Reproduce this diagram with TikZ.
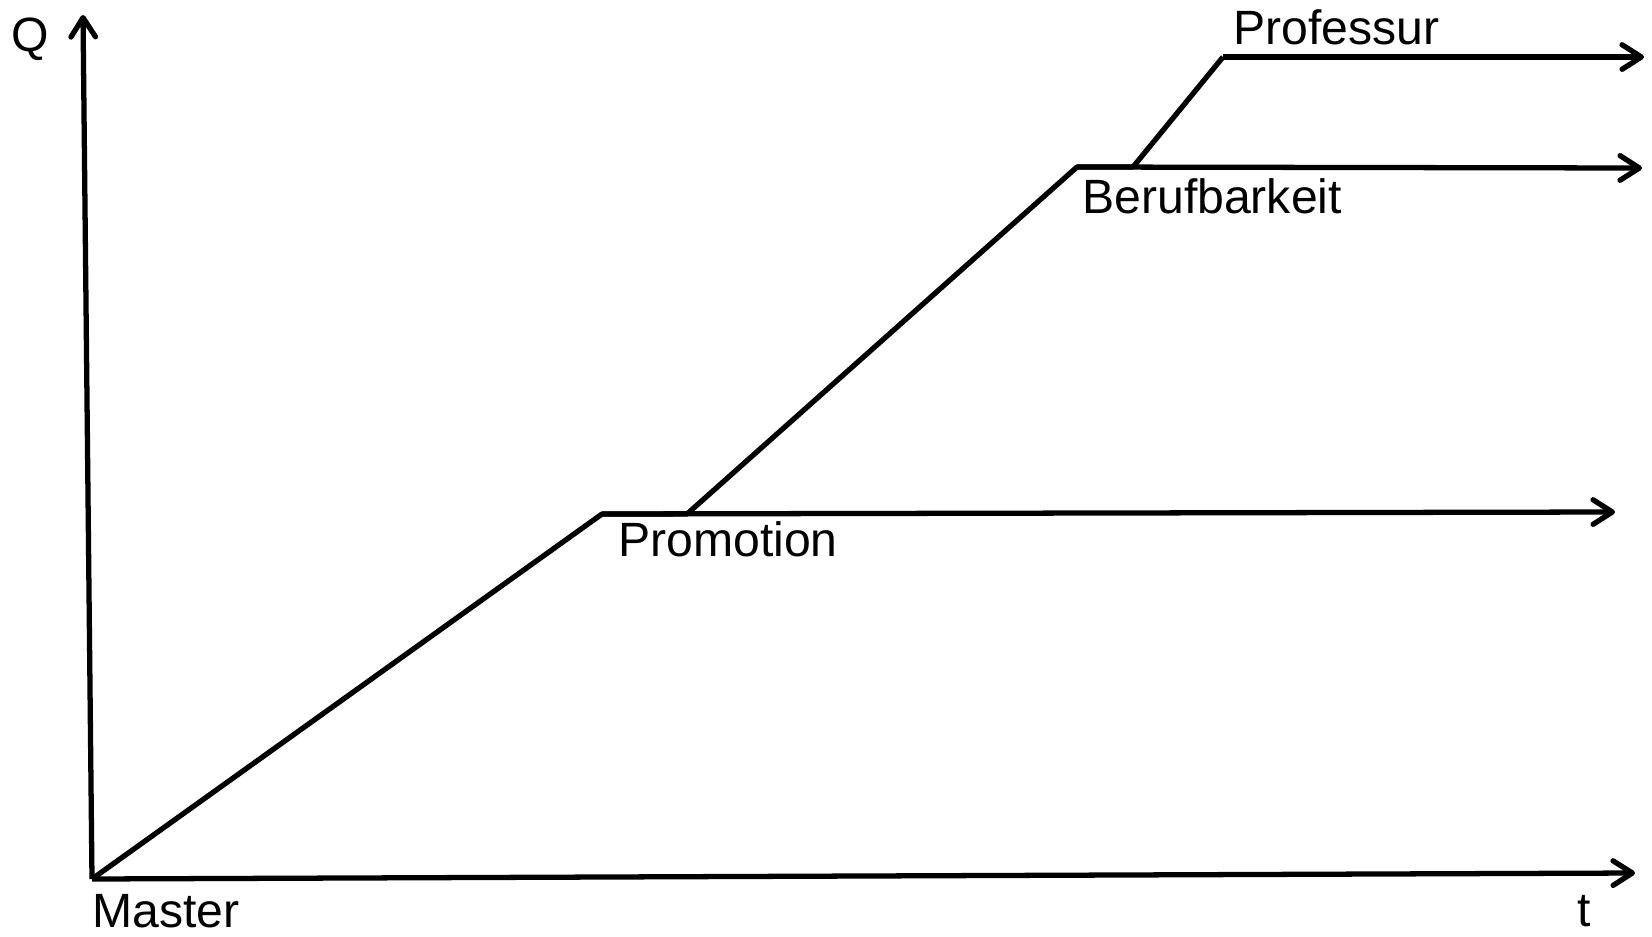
\documentclass[tikz,border=0pt]{standalone}
\usepackage{fontspec}
\setmainfont{Liberation Sans}
\usetikzlibrary{arrows.meta}

\begin{document}
\begin{tikzpicture}[x=0.02cm,y=-0.02cm,
  axis/.style={line width=3pt,-{Straight Barb[round,length=11pt,width=14pt]}},
  step line/.style={line width=3pt,line join=round},
  lbl/.style={inner sep=0pt,anchor=base west,font=\fontsize{27.4}{31}\selectfont}]
\useasboundingbox (0,0) rectangle (1652,936);
% points of the path
\coordinate (o) at (92,879);
\coordinate (qtop) at (83,15);
\coordinate (tend) at (1635,873);
\coordinate (prom) at (602,514);
\coordinate (promfork) at (687,514);
\coordinate (promend) at (1615,512);
\coordinate (beruf) at (1077,167);
\coordinate (beruffork) at (1133,167);
\coordinate (berufend) at (1642,168);
\coordinate (prof) at (1223,57);
\coordinate (profend) at (1644,57);
% axes
\draw[axis] (o)--(qtop);
\draw[axis] (o)--(tend);
% steps
\draw[step line] (o)--(prom)--(promfork)--(beruf)--(beruffork)--(prof);
\draw[axis] (prom)--(promend);
\draw[axis] (beruf)--(berufend);
\draw[axis] (prof)--(profend);
% labels
\node[lbl] (q) at (11,52) {Q};
\node[lbl] (t) at (1577,926) {t};
\node[lbl] (master) at (92,927) {Master};
\node[lbl] (promotion) at (618,556) {Promotion};
\node[lbl] (berufbarkeit) at (1082,213) {Berufbarkeit};
\node[lbl] (professur) at (1233,45) {Professur};
\end{tikzpicture}
\end{document}
